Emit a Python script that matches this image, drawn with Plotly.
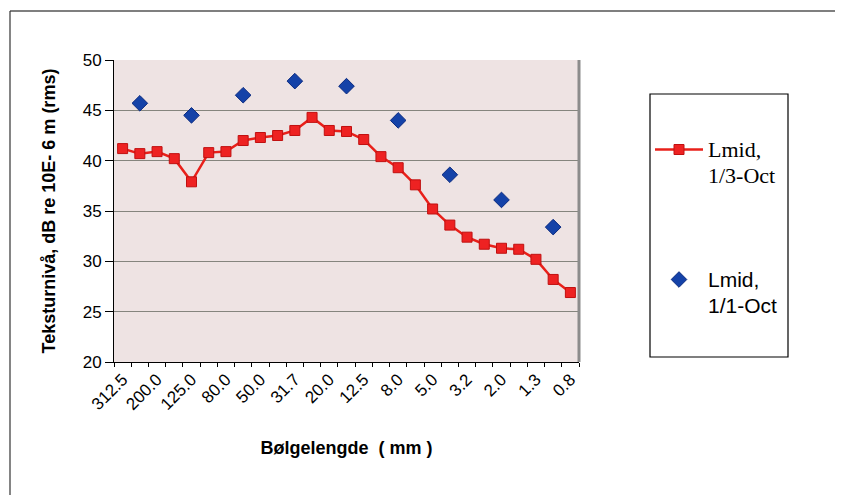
import plotly.graph_objects as go

categories = ["312.5", "250.0", "200.0", "160.0", "125.0", "100.0", "80.0", "63.0",
              "50.0", "40.0", "31.7", "25.0", "20.0", "16.0", "12.5", "10.0",
              "8.0", "6.3", "5.0", "4.0", "3.2", "2.5", "2.0", "1.6", "1.3", "1.0", "0.8"]
lmid_third = [41.2, 40.7, 40.9, 40.2, 37.9, 40.8, 40.9, 42.0, 42.3, 42.5, 43.0, 44.3,
              43.0, 42.9, 42.1, 40.4, 39.3, 37.6, 35.2, 33.6, 32.4, 31.7, 31.3, 31.2,
              30.2, 28.2, 26.9]
octave_cats = ["250.0", "125.0", "63.0", "31.7", "16.0", "8.0", "4.0", "2.0", "1.0"]
lmid_oct = [45.7, 44.5, 46.5, 47.9, 47.4, 44.0, 38.6, 36.1, 33.4]
label_cats = categories[::2]

x_third = list(range(len(categories)))
x_oct = [categories.index(c) for c in octave_cats]
x_lab = [categories.index(c) for c in label_cats]

fig = go.Figure()
fig.add_trace(go.Scatter(
    x=x_third, y=lmid_third, mode="lines+markers",
    name='<span style="font-family:Liberation Serif;font-size:22px">Lmid,<br>1/3-Oct</span>',
    line=dict(color="#E8201A", width=2.5),
    marker=dict(symbol="square", size=10, color="#EE2222", line=dict(color="#C01010", width=1)),
    legendgroup="a"))
fig.add_trace(go.Scatter(
    x=x_oct, y=lmid_oct, mode="markers",
    name='<span style="font-family:Liberation Sans;font-size:21px">Lmid,<br>1/1-Oct</span>',
    marker=dict(symbol="diamond", size=12, color="#1442A8", line=dict(color="#0A2A80", width=1)),
    legendgroup="b"))

# page has an 8px body margin; screen coords below are converted accordingly
OFF = 8
W, H = 843 - OFF, 495 - OFF
L, R, T, B = 114 - OFF, 264, 60 - OFF, 133
pw, ph = W - L - R, H - T - B

def px(x):
    return (x - OFF - L) / pw

def py(y):
    return (H - B - (y - OFF)) / ph

fig.update_layout(
    width=W, height=H,
    margin=dict(l=L, r=R, t=T, b=B),
    paper_bgcolor="white",
    plot_bgcolor="#EEE3E3",
    font=dict(family="Liberation Sans", color="black"),
    showlegend=True,
    legend=dict(x=px(650), y=py(130), xanchor="left", yanchor="top",
                bgcolor="rgba(0,0,0,0)", borderwidth=0, itemwidth=48,
                font=dict(size=20, family="Liberation Serif", color="black"),
                tracegroupgap=75, valign="top", traceorder="grouped"),
    xaxis=dict(range=[-0.5, len(categories) - 0.5], tickmode="array",
               tickvals=x_lab, ticktext=label_cats, tickangle=-45,
               ticks="", tickfont=dict(size=17),
               showgrid=False, zeroline=False,
               showline=True, linecolor="black", linewidth=1,
               minor=dict(tickmode="linear", tick0=-0.5, dtick=1, ticks="outside",
                          ticklen=4, tickcolor="black", showgrid=False),
               title=dict(text="<b>Bølgelengde  ( mm )</b>", font=dict(size=18), standoff=28)),
    yaxis=dict(range=[20, 50], dtick=5, ticks="outside", ticklen=8, tickcolor="black",
               tickfont=dict(size=17), showgrid=True, gridcolor="#85857E", gridwidth=1,
               zeroline=False, showline=True, linecolor="black", linewidth=1,
               title=dict(text="<b>Teksturnivå, dB re 10E- 6 m (rms)</b>", font=dict(size=18),
                          standoff=22)),
)

# right border of plot area
fig.add_shape(type="line", xref="paper", yref="paper", x0=1, x1=1, y0=0, y1=1,
              line=dict(color="#8C8C8C", width=3))
# legend box
fig.add_shape(type="rect", xref="paper", yref="paper",
              x0=px(650), x1=px(788), y0=py(357), y1=py(94),
              line=dict(color="black", width=1.2), fillcolor="rgba(0,0,0,0)")
# outer frame (top and left edges)
fig.add_shape(type="line", xref="paper", yref="paper", x0=px(10), x1=px(843), y0=py(11), y1=py(11),
              line=dict(color="#555555", width=1.5))
fig.add_shape(type="line", xref="paper", yref="paper", x0=px(10), x1=px(10), y0=py(11), y1=py(495),
              line=dict(color="#333333", width=1.2))

fig.write_html("out.html")
